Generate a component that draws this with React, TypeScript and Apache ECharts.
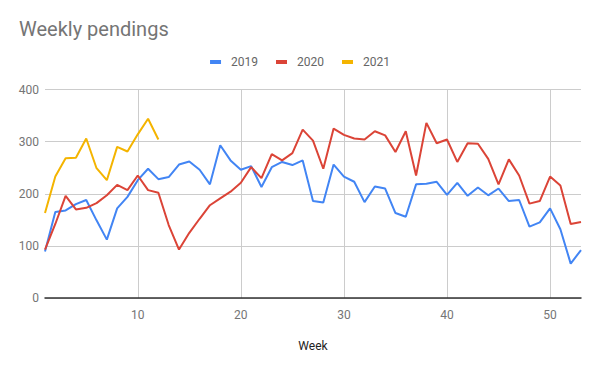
import React, { useEffect, useRef } from "react";
import * as echarts from "echarts";

const weeks = [1, 2, 3, 4, 5, 6, 7, 8, 9, 10, 11, 12, 13, 14, 15, 16, 17, 18, 19, 20, 21, 22, 23, 24, 25, 26, 27, 28, 29, 30, 31, 32, 33, 34, 35, 36, 37, 38, 39, 40, 41, 42, 43, 44, 45, 46, 47, 48, 49, 50, 51, 52, 53];

const values2019 = [89, 165, 168, 180, 188, 149, 112, 172, 194, 226, 248, 228, 232, 256, 262, 246, 218, 293, 264, 246, 253, 213, 251, 261, 255, 264, 186, 183, 256, 233, 223, 184, 214, 210, 163, 156, 218, 219, 223, 198, 221, 196, 212, 197, 210, 186, 188, 137, 145, 172, 132, 66, 92];

const values2020 = [93, 142, 196, 170, 173, 182, 197, 217, 207, 235, 207, 202, 140, 93, 125, 152, 178, 191, 204, 221, 251, 230, 276, 264, 278, 323, 302, 248, 325, 313, 306, 304, 320, 312, 280, 320, 235, 336, 297, 304, 261, 297, 296, 267, 218, 266, 235, 181, 186, 233, 216, 142, 146];

const values2021 = [163, 233, 268, 269, 306, 249, 226, 290, 281, 314, 344, 304];

const seriesNames = ["2019", "2020", "2021"];
const seriesColors = ["#4285F4", "#DB4437", "#F4B400"];
const yTicks = [0, 100, 200, 300, 400];

const pairs = (vals: number[]) => vals.map((v, i) => [weeks[i], v]);

export default function App() {
  const ref = useRef<HTMLDivElement>(null);
  useEffect(() => {
    if (!ref.current) return;
    const chart = echarts.init(ref.current, undefined, { renderer: "svg" });
    const font = "Roboto, 'Noto Sans', Arial, sans-serif";
    chart.setOption({
      animation: false,
      backgroundColor: "#ffffff",
      textStyle: { fontFamily: font },
      title: {
        text: "Weekly pendings",
        left: 19,
        top: 19,
        padding: 0,
        textStyle: { fontFamily: font, fontSize: 20, fontWeight: "normal", color: "#757575" },
      },
      legend: {
        data: seriesNames,
        left: "center",
        top: 51,
        icon: "rect",
        itemWidth: 11,
        itemHeight: 4,
        itemGap: 18,
        textStyle: { fontFamily: font, fontSize: 12, color: "#666666", padding: [0, 0, 0, 5] },
      },
      grid: { left: 45, right: 19, top: 89.5, bottom: 73, containLabel: false },
      xAxis: {
        type: "value",
        min: weeks[0],
        max: weeks[weeks.length - 1],
        minInterval: 10,
        maxInterval: 10,
        name: "Week",
        nameLocation: "middle",
        nameGap: 42,
        nameTextStyle: { fontFamily: font, fontSize: 12, color: "#222222" },
        axisLine: { show: true, onZero: false, lineStyle: { color: "#333333", width: 1.5 } },
        axisTick: { show: false },
        axisLabel: {
          showMinLabel: false,
          showMaxLabel: false,
          margin: 11,
          fontFamily: font,
          fontSize: 12,
          color: "#757575",
        },
        splitLine: { show: true, showMinLine: false, showMaxLine: false, lineStyle: { color: "#cccccc", width: 1 } },
      },
      yAxis: {
        type: "value",
        min: yTicks[0],
        max: yTicks[yTicks.length - 1],
        interval: 100,
        axisLine: { show: false },
        axisTick: { show: false },
        axisLabel: { margin: 6, fontFamily: font, fontSize: 12, color: "#757575" },
        splitLine: { show: true, lineStyle: { color: "#cccccc", width: 1 } },
      },
      series: [
        { name: seriesNames[0], type: "line", data: pairs(values2019), color: seriesColors[0], showSymbol: false, symbol: "none", lineStyle: { width: 2 } },
        { name: seriesNames[1], type: "line", data: pairs(values2020), color: seriesColors[1], showSymbol: false, symbol: "none", lineStyle: { width: 2 } },
        { name: seriesNames[2], type: "line", data: pairs(values2021), color: seriesColors[2], showSymbol: false, symbol: "none", lineStyle: { width: 2 } },
      ],
    });
    return () => chart.dispose();
  }, []);
  return <div ref={ref} style={{ width: 600, height: 371, position: "absolute", left: 0, top: 0 }} />;
}
